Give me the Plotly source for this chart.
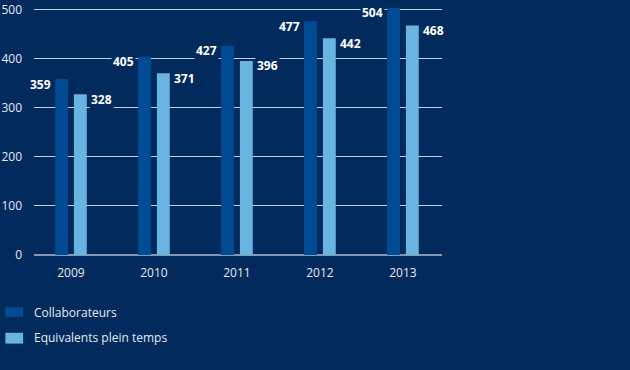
import plotly.graph_objects as go

years = ["2009", "2010", "2011", "2012", "2013"]
collaborateurs = [359, 405, 427, 477, 504]
equivalents = [328, 371, 396, 442, 468]
series_names = ["Collaborateurs", "Equivalents plein temps"]
y_ticks = [0, 100, 200, 300, 400, 500]

BG = "#032a5d"
DARK = "#004b93"
LIGHT = "#69b4e0"
TXT = "#e4e9f1"
FONT = "Open Sans"

W, H = 630, 370
ML, MR, MT, MB = 29, 188, 1, 115
PW, PH = W - ML - MR, H - MT - MB

bar_w = 0.155
dark_off = -0.191
light_off = 0.036
colors = [DARK, LIGHT]

fig = go.Figure()
fig.add_trace(go.Bar(x=years, y=collaborateurs, name=series_names[0],
                     marker=dict(color=DARK, line=dict(width=0)),
                     width=bar_w, offset=dark_off, showlegend=False))
fig.add_trace(go.Bar(x=years, y=equivalents, name=series_names[1],
                     marker=dict(color=LIGHT, line=dict(width=0)),
                     width=bar_w, offset=light_off, showlegend=False))

annotations = []
for i, (a, b) in enumerate(zip(collaborateurs, equivalents)):
    annotations.append(dict(x=i + dark_off, y=a, xref="x", yref="y", text=str(a),
                            showarrow=False, xanchor="right", yanchor="middle",
                            xshift=-2, yshift=-5, bgcolor=BG, borderpad=1,
                            font=dict(family=FONT, size=12, color="white", weight="bold")))
    annotations.append(dict(x=i + light_off + bar_w, y=b, xref="x", yref="y", text=str(b),
                            showarrow=False, xanchor="left", yanchor="middle",
                            xshift=2, yshift=-5, bgcolor=BG, borderpad=1,
                            font=dict(family=FONT, size=12, color="white", weight="bold")))

# legend (manual, pixel-positioned)
def px_x(p):
    return (p - ML) / PW

def px_y(p):
    return (H - MB - p) / PH

shapes = []
legend_rows = [(308, 318, 313), (334, 345, 339)]
for name, col, (top, bot, mid) in zip(series_names, colors, legend_rows):
    shapes.append(dict(type="rect", xref="paper", yref="paper",
                       x0=px_x(0), x1=px_x(18), y0=px_y(bot), y1=px_y(top),
                       fillcolor=col, line=dict(width=0)))
    annotations.append(dict(x=px_x(27), y=px_y(mid), xref="paper", yref="paper",
                            text=name, showarrow=False, xanchor="left", yanchor="middle",
                            font=dict(family=FONT, size=12, color=TXT)))

fig.update_layout(
    width=W, height=H,
    paper_bgcolor=BG, plot_bgcolor=BG,
    margin=dict(l=ML, r=MR, t=MT, b=MB),
    barmode="overlay",
    font=dict(family=FONT, size=12, color=TXT),
    annotations=annotations,
    shapes=shapes,
    showlegend=False,
)
fig.update_xaxes(type="category", range=[-0.445, 4.471], showgrid=False,
                 showline=False, zeroline=False, ticks="", ticklabelstandoff=9,
                 tickfont=dict(family=FONT, size=12, color=TXT))
fig.update_yaxes(range=[0, 510], tickvals=y_ticks, showgrid=True,
                 gridcolor="#c3cfe4", gridwidth=1, zeroline=True,
                 zerolinecolor="#8797b3", zerolinewidth=2,
                 showline=False, ticks="", ticklabelstandoff=11,
                 ticklabeloverflow="allow",
                 tickfont=dict(family=FONT, size=12, color=TXT))

fig.write_html("out.html", config={"displayModeBar": False},
               post_script="document.body.style.margin='0';document.body.style.background='%s';" % BG)
